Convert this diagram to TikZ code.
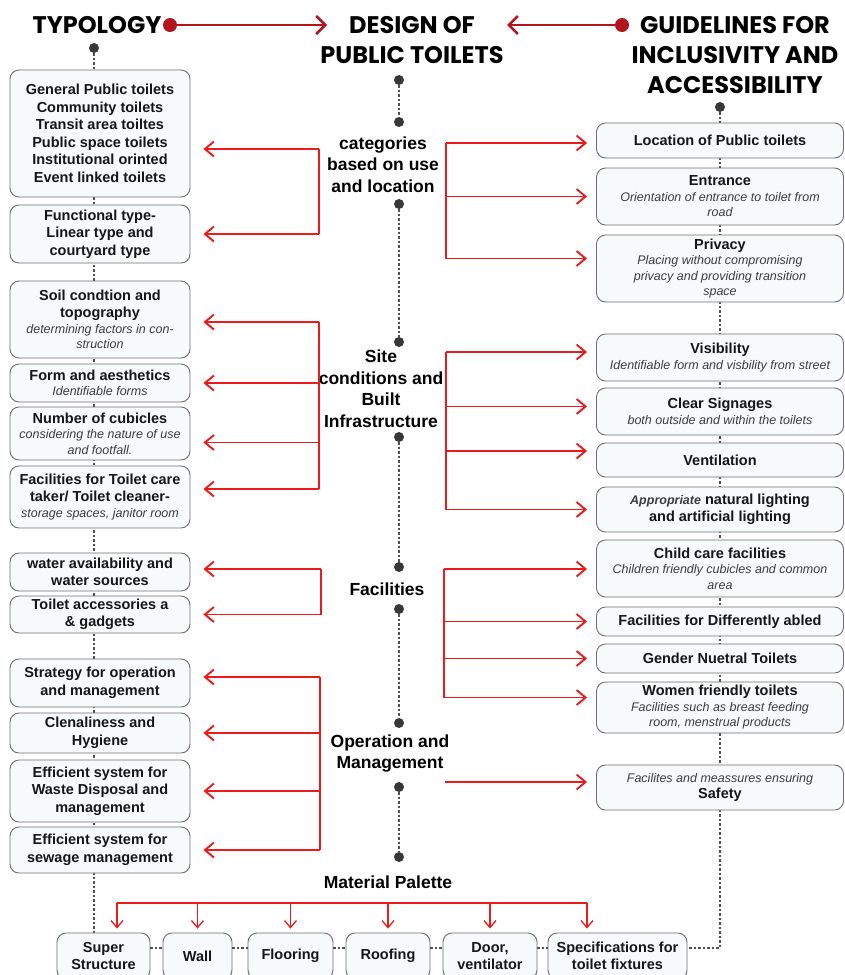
\documentclass[tikz,border=0pt]{standalone}
\usepackage{fontspec}
\setmainfont{Liberation Sans}
\newfontfamily\titlefont{Poppins}
\usetikzlibrary{calc, arrows.meta, backgrounds}

\newcommand{\boxhead}[1]{{\fontsize{14.5}{15.5}\selectfont\bfseries #1}}
\newcommand{\boxnote}[1]{{\fontsize{12.5}{15.5}\selectfont\itshape\color{noteText}#1}}

\begin{document}
\begin{tikzpicture}[x=1pt, y=-1pt,
    box/.style={draw=boxLine, fill=boxFill, rounded corners=9pt, line width=0.9pt,
        align=center, inner sep=2pt, text=inkBlack,
        font=\fontsize{14.5}{17.5}\selectfont\bfseries},
    leftbox/.style={box, minimum width=180pt},
    rightbox/.style={box, minimum width=247pt},
    notebox/.style={font=\fontsize{12.5}{15.5}\selectfont},
    matbox/.style={box, minimum height=46pt},
    title/.style={font=\titlefont\bfseries\fontsize{24}{30}\selectfont, align=center, inner sep=0pt},
    stage/.style={font=\fontsize{17.5}{21.5}\selectfont\bfseries, align=center, inner sep=0pt},
    dot/.style={circle, fill=dotGrey, inner sep=0pt, minimum size=10pt},
    reddot/.style={circle, fill=titleRed, inner sep=0pt, minimum size=14pt},
    link/.style={draw=linkGrey, line width=1.2pt, dash pattern=on 2.5pt off 2pt},
    redline/.style={draw=arrowRed, line width=1.9pt},
    redarrow/.style={redline, -{Straight Barb[length=9pt,width=15pt]}},
    leftarrow/.style={redarrow, shorten >=13pt},
    rightarrow/.style={redarrow, shorten >=9pt},
    downarrow/.style={draw=arrowRed, line width=1.3pt, -{Straight Barb[length=7pt,width=12pt]}, shorten >=4pt},
    titlearrow/.style={draw=titleRed, line width=2.5pt, -{Straight Barb[length=9pt,width=18pt]}}]
    \definecolor{boxLine}{HTML}{6E6E6E}
    \definecolor{boxFill}{HTML}{F6FAFB}
    \definecolor{noteText}{HTML}{3C3C3C}
    \definecolor{inkBlack}{HTML}{161616}
    \definecolor{dotGrey}{HTML}{383838}
    \definecolor{linkGrey}{HTML}{505050}
    \definecolor{arrowRed}{HTML}{EC1B1B}
    \definecolor{titleRed}{HTML}{B4141E}

    \useasboundingbox (0,0) rectangle (845,975);

    % Titles
    \node[title] (typology) at (97,25) {TYPOLOGY};
    \node[title] (design) at (412,40) {DESIGN OF\\PUBLIC TOILETS};
    \node[title] (guide) at (735,55) {GUIDELINES FOR\\INCLUSIVITY AND\\ACCESSIBILITY};

    % Title arrows
    \node[reddot] (tyRed) at (170,25) {};
    \node[reddot] (guRed) at (622,25) {};
    \coordinate (designL) at (327,25);
    \coordinate (designR) at (507,25);
    \draw[titlearrow] (tyRed) -- (designL);
    \draw[titlearrow] (guRed) -- (designR);

    % Typology column
    \node[dot] (tDot) at (94,48) {};
    \node[leftbox, minimum height=127pt] (t1) at (100,133.5)
        {General Public toilets\\Community toilets\\Transit area toiltes\\Public space toilets\\Institutional orinted\\Event linked toilets};
    \node[leftbox, minimum height=58pt] (t2) at (100,234) {Functional type-\\Linear type and\\courtyard type};
    \node[leftbox, notebox, minimum height=77pt] (t3) at (100,319.5)
        {\boxhead{Soil condtion and}\\[2pt]\boxhead{topography}\\\boxnote{determining factors in con-}\\\boxnote{struction}};
    \node[leftbox, notebox, minimum height=38pt] (t4) at (100,383) {\boxhead{Form and aesthetics}\\\boxnote{Identifiable forms}};
    \node[leftbox, notebox, minimum height=53pt] (t5) at (100,433.5)
        {\boxhead{Number of cubicles}\\\boxnote{considering the nature of use}\\\boxnote{and footfall.}};
    \node[leftbox, notebox, minimum height=62pt] (t6) at (100,497)
        {\boxhead{Facilities for Toilet care}\\[2pt]\boxhead{taker/ Toilet cleaner-}\\\boxnote{storage spaces, janitor room}};
    \node[leftbox, minimum height=38pt] (t7) at (100,572) {water availability and\\water sources};
    \node[leftbox, minimum height=37pt] (t8) at (100,614.5) {Toilet accessories a\\\& gadgets};
    \node[leftbox, minimum height=48pt] (t9) at (100,683) {Strategy for operation\\and management};
    \node[leftbox, minimum height=40pt] (t10) at (100,733) {Clenaliness and\\Hygiene};
    \node[leftbox, minimum height=62pt] (t11) at (100,791) {Efficient system for\\Waste Disposal and\\management};
    \node[leftbox, minimum height=46pt] (t12) at (100,850) {Efficient system for\\sewage management};

    % Guidelines column
    \node[dot] (gDot) at (720,107) {};
    \node[rightbox, minimum height=35pt] (g1) at (720,140.5) {Location of Public toilets};
    \node[rightbox, notebox, minimum height=57pt] (g2) at (720,196.5)
        {\boxhead{Entrance}\\\boxnote{Orientation of entrance to toilet from}\\\boxnote{road}};
    \node[rightbox, notebox, minimum height=67pt] (g3) at (720,268.5)
        {\boxhead{Privacy}\\\boxnote{Placing without compromising}\\\boxnote{privacy and providing transition}\\\boxnote{space}};
    \node[rightbox, notebox, minimum height=47pt] (g4) at (720,357.5)
        {\boxhead{Visibility}\\\boxnote{Identifiable form and visbility from street}};
    \node[rightbox, notebox, minimum height=47pt] (g5) at (720,411.5)
        {\boxhead{Clear Signages}\\\boxnote{both outside and within the toilets}};
    \node[rightbox, minimum height=34pt] (g6) at (720,460) {Ventilation};
    \node[rightbox, minimum height=45pt] (g7) at (720,509.5)
        {\boxnote{Appropriate} natural lighting\\and artificial lighting};
    \node[rightbox, notebox, minimum height=57pt] (g8) at (720,568.5)
        {\boxhead{Child care facilities}\\\boxnote{Children friendly cubicles and common}\\\boxnote{area}};
    \node[rightbox, minimum height=29pt] (g9) at (720,621.5) {Facilities for Differently abled};
    \node[rightbox, minimum height=29pt] (g10) at (720,658.5) {Gender Nuetral Toilets};
    \node[rightbox, notebox, minimum height=51pt] (g11) at (720,707.5)
        {\boxhead{Women friendly toilets}\\\boxnote{Facilities such as breast feeding}\\\boxnote{room, menstrual products}};
    \node[rightbox, notebox, minimum height=45pt] (g12) at (720,787.5)
        {\boxnote{Facilites and meassures ensuring}\\\boxhead{Safety}};

    % Material palette row
    \node[matbox, minimum width=93pt] (ss) at (103.5,956) {Super\\Structure};
    \node[matbox, minimum width=69pt] (wall) at (197.5,956) {Wall};
    \node[matbox, minimum width=85pt] (floor) at (290.5,956) {Flooring};
    \node[matbox, minimum width=84pt] (roof) at (388,956) {Roofing};
    \node[matbox, minimum width=94pt] (door) at (490,956) {Door,\\ventilator};
    \node[matbox, minimum width=139pt] (spec) at (617.5,956) {Specifications for\\toilet fixtures};

    % White page and dashed spines behind the boxes
    \begin{scope}[on background layer]
        \fill[white] (0,0) rectangle (845,975);
        \draw[link] (tDot) -- (tDot |- ss.north);
        \draw[link] (gDot) |- ([yshift=8pt]spec.east);
    \end{scope}
    \foreach \a/\b in {ss/wall, wall/floor, floor/roof, roof/door, door/spec}
        \draw[link] ([yshift=8pt]\a.east) -- ([yshift=8pt]\b.west);

    % Design stages
    \node[dot] (c0) at (399,80) {};
    \node[dot] (c1) at (399,122) {};
    \node[stage] (cat) at (383,164.5) {categories\\based on use\\and location};
    \node[dot] (c2) at (399,204) {};
    \node[dot] (c3) at (399,342) {};
    \node[stage] (site) at (381,388.5) {Site\\conditions and\\Built\\Infrastructure};
    \node[dot] (c4) at (399,437) {};
    \node[dot] (c5) at (399,567) {};
    \node[stage] (fac) at (387,589) {Facilities};
    \node[dot] (c6) at (399,609) {};
    \node[dot] (c7) at (399,723) {};
    \node[stage] (ops) at (390,753.5) {Operation and\\Management};
    \node[dot] (c8) at (399,787) {};
    \node[dot] (c9) at (399,857) {};
    \node[stage] (mat) at (388,882) {Material Palette};
    \foreach \a/\b in {c0/c1, c2/c3, c4/c5, c6/c7, c8/c9}
        \draw[link] (\a) -- (\b);

    % Red brackets to typology
    \coordinate (catL) at (319,149);
    \draw[redline] (catL) -- (catL |- t2.east);
    \draw[leftarrow] (catL) -- (catL -| t1.east);
    \draw[leftarrow] (catL |- t2.east) -- (t2.east);

    \coordinate (siteL) at (319,322);
    \draw[redline] (siteL) -- ([yshift=8pt]siteL |- t6.east);
    \draw[leftarrow] (siteL) -- (siteL -| t3.east);
    \draw[leftarrow] (siteL |- t4.east) -- (t4.east);
    \draw[leftarrow] ([yshift=-9pt]siteL |- t5.east) -- ([yshift=-9pt]t5.east);
    \draw[leftarrow] ([yshift=8pt]siteL |- t6.east) -- ([yshift=8pt]t6.east);

    \coordinate (facL) at (321,569);
    \draw[redline] (facL) -- (facL |- t8.east);
    \draw[leftarrow] (facL) -- (facL -| t7.east);
    \draw[leftarrow] (facL |- t8.east) -- (t8.east);

    \coordinate (opsL) at (320,677);
    \draw[redline] (opsL) -- (opsL |- t12.east);
    \draw[leftarrow] (opsL) -- (opsL -| t9.east);
    \foreach \b in {t10, t11, t12}
        \draw[leftarrow] (opsL |- \b.east) -- (\b.east);

    % Red brackets to guidelines
    \coordinate (catR) at (446,143);
    \draw[redline] (catR) -- ([yshift=10pt]catR |- g3.west);
    \draw[rightarrow] (catR) -- (catR -| g1.west);
    \draw[rightarrow] (catR |- g2.west) -- (g2.west);
    \draw[rightarrow] ([yshift=10pt]catR |- g3.west) -- ([yshift=10pt]g3.west);

    \coordinate (siteR) at (446,352);
    \draw[redline] (siteR) -- (siteR |- g7.west);
    \draw[rightarrow] (siteR) -- (siteR -| g4.west);
    \draw[rightarrow] ([yshift=5pt]siteR |- g5.west) -- ([yshift=5pt]g5.west);
    \draw[rightarrow] ([yshift=9pt]siteR |- g6.west) -- ([yshift=9pt]g6.west);
    \draw[rightarrow] (siteR |- g7.west) -- (g7.west);

    \coordinate (facR) at (444,569);
    \draw[redline] (facR) -- ([yshift=10pt]facR |- g11.west);
    \draw[rightarrow] (facR) -- (facR -| g8.west);
    \foreach \b in {g9, g10}
        \draw[rightarrow] (facR |- \b.west) -- (\b.west);
    \draw[rightarrow] ([yshift=10pt]facR |- g11.west) -- ([yshift=10pt]g11.west);

    \coordinate (opsR) at (445,782);
    \draw[rightarrow] (opsR) -- (opsR -| g12.west);

    % Material palette arrows
    \coordinate (matL) at (117,903);
    \coordinate (matR) at (587,903);
    \draw[redline, line width=1.3pt] (matL) -- (matR);
    \draw[downarrow] (matL) -- (matL |- ss.north);
    \foreach \b in {wall, floor, roof, door}
        \draw[downarrow] (matL -| \b.north) -- (\b.north);
    \draw[downarrow] (matR) -- (matR |- spec.north);
\end{tikzpicture}
\end{document}
